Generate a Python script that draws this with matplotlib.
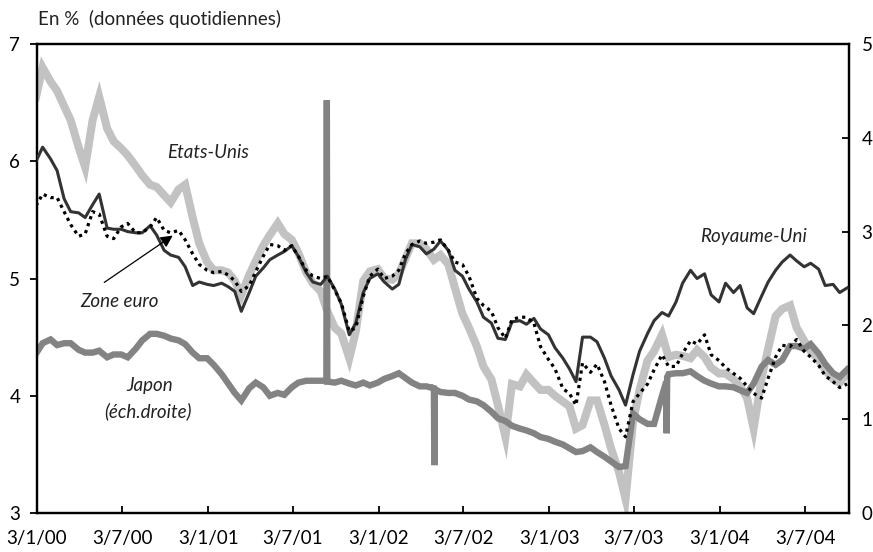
import matplotlib
matplotlib.use("Agg")
import matplotlib.pyplot as plt
import pandas as pd
import numpy as np

# ---------------- data ----------------
dates = pd.date_range("2000-01-01", "2004-10-01", freq="SMS")  # 1st and 15th of each month

etats_unis = [
    6.55, 6.80, 6.68, 6.60, 6.47, 6.35, 6.12, 5.95, 6.35, 6.55,
    6.28, 6.17, 6.11, 6.05, 5.96, 5.88, 5.80, 5.78, 5.71, 5.65,
    5.76, 5.80, 5.52, 5.30, 5.14, 5.07, 5.07, 5.05, 4.98, 4.86,
    5.03, 5.15, 5.28, 5.37, 5.47, 5.38, 5.33, 5.22, 5.05, 4.96,
    4.89, 4.72, 4.58, 4.53, 4.32, 4.55, 4.98, 5.06, 5.08, 5.00,
    4.99, 5.04, 5.17, 5.30, 5.30, 5.25, 5.16, 5.20, 5.12, 4.92,
    4.70, 4.58, 4.42, 4.25, 4.14, 3.92, 3.65, 4.10, 4.08, 4.18,
    4.11, 4.05, 4.05, 4.00, 3.95, 3.91, 3.72, 3.75, 3.96, 3.96,
    3.75, 3.55, 3.35, 3.12, 3.78, 4.05, 4.30, 4.38, 4.52, 4.33,
    4.35, 4.34, 4.32, 4.39, 4.33, 4.24, 4.19, 4.19, 4.14, 4.08,
    3.98, 3.72, 4.15, 4.40, 4.68, 4.74, 4.77, 4.58, 4.47, 4.38,
    4.31, 4.22, 4.14, 4.11, 4.19,
]

royaume_uni = [
    6.00, 6.12, 6.02, 5.92, 5.68, 5.57, 5.56, 5.52, 5.63, 5.72,
    5.43, 5.42, 5.42, 5.40, 5.39, 5.39, 5.45, 5.37, 5.24, 5.20,
    5.18, 5.10, 4.94, 4.97, 4.95, 4.94, 4.96, 4.93, 4.89, 4.72,
    4.88, 5.02, 5.09, 5.16, 5.20, 5.23, 5.28, 5.19, 5.05, 4.97,
    4.95, 5.02, 4.91, 4.78, 4.52, 4.62, 4.88, 5.00, 5.04, 4.97,
    4.91, 4.95, 5.16, 5.29, 5.27, 5.21, 5.25, 5.32, 5.24, 5.07,
    5.02, 4.91, 4.80, 4.67, 4.62, 4.49, 4.48, 4.63, 4.64, 4.61,
    4.66, 4.57, 4.52, 4.41, 4.32, 4.23, 4.12, 4.50, 4.50, 4.46,
    4.32, 4.17, 4.05, 3.92, 4.18, 4.38, 4.53, 4.64, 4.71, 4.68,
    4.80, 4.96, 5.07, 5.00, 5.04, 4.86, 4.80, 4.96, 4.88, 4.94,
    4.75, 4.70, 4.85, 4.97, 5.07, 5.14, 5.20, 5.15, 5.10, 5.13,
    5.08, 4.94, 4.95, 4.88, 4.92,
]

zone_euro = [
    5.62, 5.72, 5.69, 5.69, 5.57, 5.46, 5.36, 5.38, 5.57, 5.55,
    5.36, 5.34, 5.44, 5.47, 5.39, 5.39, 5.44, 5.52, 5.41, 5.39,
    5.41, 5.33, 5.21, 5.12, 5.07, 5.05, 5.06, 5.03, 4.98, 4.89,
    4.94, 5.06, 5.19, 5.29, 5.28, 5.24, 5.28, 5.19, 5.07, 5.02,
    5.00, 5.02, 4.90, 4.79, 4.55, 4.58, 4.85, 5.02, 5.08, 5.00,
    5.02, 5.07, 5.21, 5.29, 5.32, 5.30, 5.31, 5.33, 5.24, 5.14,
    5.12, 5.02, 4.83, 4.77, 4.72, 4.58, 4.49, 4.65, 4.67, 4.67,
    4.62, 4.42, 4.31, 4.23, 4.06, 4.02, 3.92, 4.28, 4.20, 4.27,
    4.12, 3.92, 3.72, 3.65, 3.95, 4.02, 4.10, 4.22, 4.35, 4.25,
    4.25, 4.36, 4.47, 4.44, 4.52, 4.35, 4.30, 4.24, 4.19, 4.15,
    4.08, 4.02, 3.98, 4.15, 4.33, 4.43, 4.42, 4.48, 4.38, 4.33,
    4.26, 4.17, 4.12, 4.07, 4.10,
]

# Japan, right-hand scale
japon = [
    1.70, 1.81, 1.85, 1.79, 1.81, 1.81, 1.74, 1.71, 1.71, 1.73,
    1.66, 1.69, 1.69, 1.66, 1.75, 1.84, 1.91, 1.91, 1.89, 1.86,
    1.84, 1.80, 1.71, 1.65, 1.65, 1.58, 1.48, 1.38, 1.28, 1.20,
    1.33, 1.39, 1.34, 1.25, 1.28, 1.26, 1.34, 1.39, 1.41, 1.41,
    1.41, 1.40, 1.39, 1.41, 1.38, 1.36, 1.39, 1.36, 1.39, 1.43,
    1.46, 1.49, 1.44, 1.39, 1.35, 1.35, 1.33, 1.29, 1.28, 1.28,
    1.25, 1.21, 1.19, 1.15, 1.08, 1.01, 0.98, 0.93, 0.90, 0.88,
    0.85, 0.81, 0.79, 0.76, 0.73, 0.69, 0.65, 0.66, 0.70, 0.65,
    0.60, 0.55, 0.49, 0.50, 1.06, 1.00, 0.95, 0.95, 1.25, 1.48,
    1.49, 1.49, 1.51, 1.46, 1.41, 1.38, 1.35, 1.35, 1.34, 1.31,
    1.28, 1.38, 1.56, 1.63, 1.58, 1.63, 1.78, 1.78, 1.75, 1.80,
    1.70, 1.59, 1.49, 1.45, 1.53,
]
# isolated daily spikes in the Japanese series
japon_spike_dates = ["2001-09-13", "2001-09-14", "2001-09-17",
                     "2002-05-02", "2002-05-03",
                     "2003-09-10", "2003-09-11", "2003-09-12"]
japon_spike_values = [1.41, 4.40, 1.40,
                      0.51, 1.32,
                      1.40, 0.85, 1.45]

tick_dates = ["2000-01-03", "2000-07-03", "2001-01-03", "2001-07-03", "2002-01-03",
              "2002-07-03", "2003-01-03", "2003-07-03", "2004-01-03", "2004-07-03"]
tick_labels = ["3/1/00", "3/7/00", "3/1/01", "3/7/01", "3/1/02",
               "3/7/02", "3/1/03", "3/7/03", "3/1/04", "3/7/04"]

assert len(dates) == len(etats_unis) == len(royaume_uni) == len(zone_euro) == len(japon)

# ---------------- figure ----------------
plt.rcParams["font.family"] = ["Lato", "DejaVu Sans"]

fig = plt.figure(figsize=(8.73, 5.52), dpi=100)
ax = fig.add_axes([37 / 873, 39 / 552, 812 / 873, 469 / 552])

c_us = "#c2c2c2"
c_uk = "#333333"
c_jp = "#838383"

jp = pd.concat([pd.Series(japon, index=dates),
                pd.Series(japon_spike_values, index=pd.to_datetime(japon_spike_dates))]).sort_index()

ax.plot(dates, etats_unis, color=c_us, lw=5.8, solid_joinstyle="miter")

ax2 = ax.twinx()
ax2.plot(jp.index, jp.values, color=c_jp, lw=4.6, solid_joinstyle="miter")

ax3 = ax.twinx()
ax3.plot(dates, royaume_uni, color=c_uk, lw=2.2)
ax3.plot(dates, zone_euro, color="black", lw=2.3, linestyle=(0, (1, 1.3)))

xmin, xmax = pd.Timestamp("2000-01-03"), pd.Timestamp("2004-10-05")
for a in (ax, ax2, ax3):
    a.set_xlim(xmin, xmax)
ax.set_ylim(3, 7)
ax3.set_ylim(3, 7)
ax2.set_ylim(0, 5)

ax3.yaxis.set_visible(False)
for s in ax3.spines.values():
    s.set_visible(False)

ax.set_xticks(pd.to_datetime(tick_dates))
ax.set_xticklabels(tick_labels)
ax.set_yticks([3, 4, 5, 6, 7])
ax2.set_yticks([0, 1, 2, 3, 4, 5])

for a in (ax, ax2):
    for s in a.spines.values():
        s.set_linewidth(1.6)
        s.set_color("black")

fs = 13.5
ax.tick_params(axis="x", direction="in", length=5, width=1.3, pad=12, labelsize=fs)
ax.tick_params(axis="y", direction="out", length=5, width=1.3, pad=7, labelsize=fs)
ax2.tick_params(axis="y", direction="in", length=5, width=1.3, pad=9, labelsize=fs)
ax3.tick_params(axis="x", bottom=False, labelbottom=False)

# annotations
lab = dict(transform=ax.transAxes, fontsize=fs, style="italic", ha="center", va="center", color="#222222")
ax.text(0.2106, 0.7676, "Etats-Unis", **lab)
ax.text(0.8818, 0.5885, "Royaume-Uni", **lab)
ax.text(0.1022, 0.452, "Zone euro", **lab)
ax.text(0.139, 0.2708, "Japon", **lab)
ax.text(0.1367, 0.2175, "(éch.droite)", **lab)
ax3.annotate("", xy=(0.170, 0.5949), xytext=(0.080, 0.4883),
             xycoords="axes fraction", textcoords="axes fraction",
             arrowprops=dict(arrowstyle="-|>", color="black", lw=0.9,
                             mutation_scale=18))

fig.text(38 / 873, 1 - 19 / 552, "En %  (données quotidiennes)", fontsize=fs,
         ha="left", va="center", color="#222222")

fig.savefig("out.png", dpi=100)
